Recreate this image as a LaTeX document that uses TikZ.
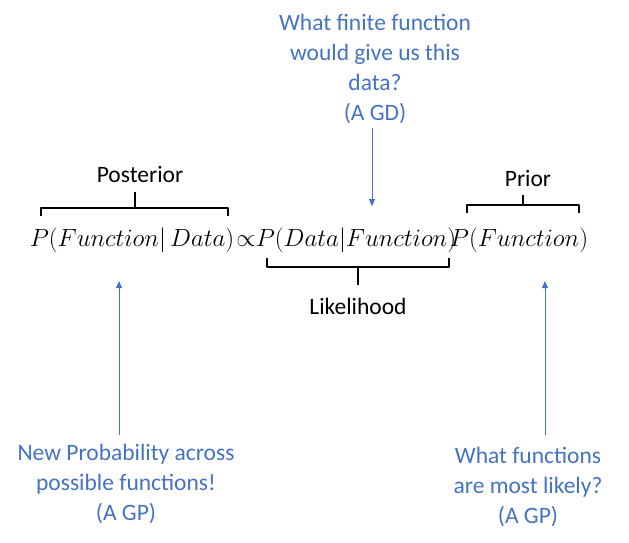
\documentclass[tikz,border=0pt]{standalone}
\usepackage{fontspec}
\setmainfont{Carlito}
\usetikzlibrary{arrows.meta}
\definecolor{ablue}{HTML}{4472C4}
\tikzset{
  lbl/.style={font=\fontsize{23.5}{30}\selectfont, align=center, inner sep=0pt},
  bluelbl/.style={lbl, text=ablue},
  formula/.style={font=\fontsize{23.8}{28}\selectfont, inner sep=0pt, anchor=base},
  brk/.style={line width=1.6pt, black, line join=round},
  arr/.style={ablue, line width=1pt, -{Triangle[width=6pt,length=7pt]}}
}
\begin{document}
\begin{tikzpicture}[x=1pt,y=-1pt]
\useasboundingbox (0,0) rectangle (629,543);
% formula
\node[formula] (post) at (132,246) {$P(Function|\,Data)$};
\node[formula] (prop) at (246,246) {$\propto$};
\node[formula] (lik) at (356,246) {$P(Data|Function)$};
\node[formula] (pri) at (519,246) {$P(Function)$};
% labels
\node[lbl] (postlbl) at (140,175) {Posterior};
\node[lbl] (prilbl) at (528,178) {Prior};
\node[lbl] (liklbl) at (358,306) {Likelihood};
% brackets
\draw[brk] (41,216) -- (41,208) -- (228,208) -- (228,216);
\draw[brk] (135,208) -- (135,192);
\draw[brk] (467,213) -- (467,205) -- (579,205) -- (579,213);
\draw[brk] (523,205) -- (523,195);
\draw[brk] (267,258) -- (267,267) -- (449,267) -- (449,258);
\draw[brk] (358,267) -- (358,285);
% blue texts
\node[bluelbl] (top) at (375,69) {What finite function\\would give us this\\data?\\(A GD)};
\node[bluelbl] (bl) at (126,484) {New Probability across\\possible functions!\\(A GP)};
\node[bluelbl] (br) at (528,487) {What functions\\are most likely?\\(A GP)};
% arrows
\coordinate (ta) at (372,128);
\coordinate (tb) at (372,206);
\draw[arr] (ta) -- (tb);
\coordinate (la) at (119,435);
\coordinate (lb) at (119,281);
\draw[arr] (la) -- (lb);
\coordinate (ra) at (545,435);
\coordinate (rb) at (545,281);
\draw[arr] (ra) -- (rb);
\end{tikzpicture}
\end{document}
